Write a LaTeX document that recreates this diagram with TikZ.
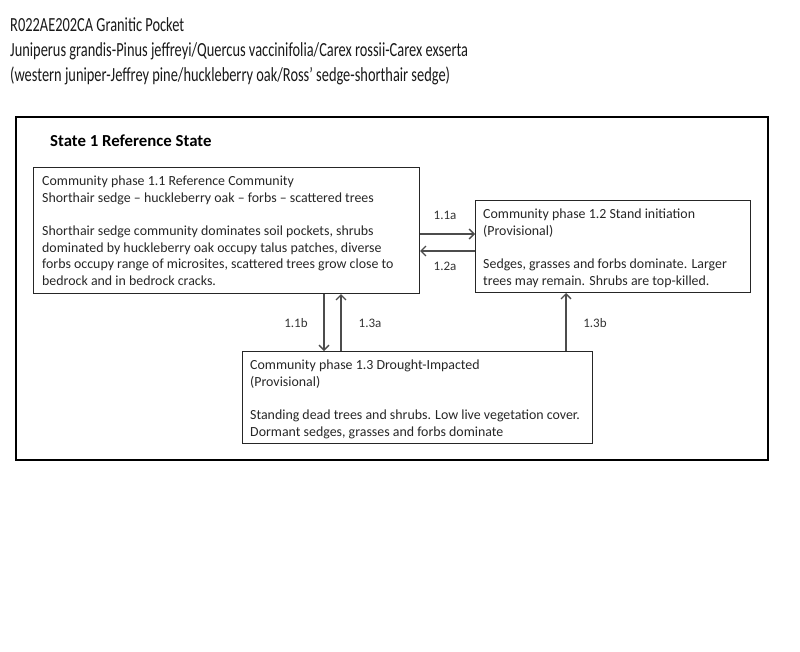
\documentclass[tikz,border=0pt]{standalone}
\usepackage{fontspec}
\setmainfont{Carlito}
\newfontfamily\titlefont[FakeStretch=0.72]{Carlito}
\usetikzlibrary{arrows.meta}
\begin{document}
\begin{tikzpicture}[x=1pt,y=-1pt,
  box/.style={draw=black!85, line width=1pt, anchor=north west, inner sep=0pt},
  txt/.style={anchor=north west, align=left, inner sep=0pt, font=\fontsize{13.9}{16.7}\selectfont, text=black!85},
  ttl/.style={anchor=base west, inner sep=0pt, font=\titlefont\fontsize{20}{25}\selectfont, text=black!90},
  lbl/.style={font=\fontsize{13}{15}\selectfont, text=black!80},
  conn/.style={draw=black!70, line width=1.3pt, -{Straight Barb[length=5pt,width=10pt,line width=1.3pt]}}]
\useasboundingbox (0,0) rectangle (800,651);
\node[ttl] (title1) at (10,31) {R022AE202CA Granitic Pocket};
\node[ttl] (title2) at (10,56) {Juniperus grandis-Pinus jeffreyi/Quercus vaccinifolia/Carex rossii-Carex exserta};
\node[ttl] (title3) at (10,81) {(western juniper-Jeffrey pine/huckleberry oak/Ross’ sedge-shorthair sedge)};
\node[draw=black, line width=2pt, anchor=north west, minimum width=752pt, minimum height=343pt, inner sep=0pt] (state) at (15,116) {};
\node[anchor=west, inner sep=0pt, font=\bfseries\fontsize{16.8}{18}\selectfont] (statelbl) at (50,141) {State 1 Reference State};
% boxes
\node[box, minimum width=386pt, minimum height=126pt] (p11) at (33,167) {};
\node[box, minimum width=275pt, minimum height=92pt] (p12) at (475,200) {};
\node[box, minimum width=350pt, minimum height=92pt] (p13) at (242,351) {};
\node[txt] (t11) at (42,175.5) {Community phase 1.1 Reference Community\\Shorthair sedge – huckleberry oak – forbs – scattered trees\\[16.7pt]Shorthair sedge community dominates soil pockets, shrubs\\dominated by huckleberry oak occupy talus patches, diverse\\forbs occupy range of microsites, scattered trees grow close to\\bedrock and in bedrock cracks.};
\node[txt] (t12) at (483,208.5) {Community phase 1.2 Stand initiation\\(Provisional)\\[16.7pt]Sedges, grasses and forbs dominate. Larger\\trees may remain. Shrubs are top-killed.};
\node[txt] (t13) at (250,359.5) {Community phase 1.3 Drought-Impacted\\(Provisional)\\[16.7pt]Standing dead trees and shrubs. Low live vegetation cover.\\Dormant sedges, grasses and forbs dominate};
% connectors
\draw[conn] (p11.east |- 0,234) -- (p12.west |- 0,234);
\draw[conn] (p12.west |- 0,251) -- (p11.east |- 0,251);
\draw[conn] (324,0 |- p11.south) -- (324,0 |- p13.north);
\draw[conn] (341,0 |- p13.north) -- (341,0 |- p11.south);
\draw[conn] (566,0 |- p13.north) -- (566,0 |- p12.south);
% labels
\node[lbl] (l11a) at (445,215) {1.1a};
\node[lbl] (l12a) at (445,266) {1.2a};
\node[lbl] (l11b) at (296,323) {1.1b};
\node[lbl] (l13a) at (370,323) {1.3a};
\node[lbl] (l13b) at (595,323) {1.3b};
\end{tikzpicture}
\end{document}
